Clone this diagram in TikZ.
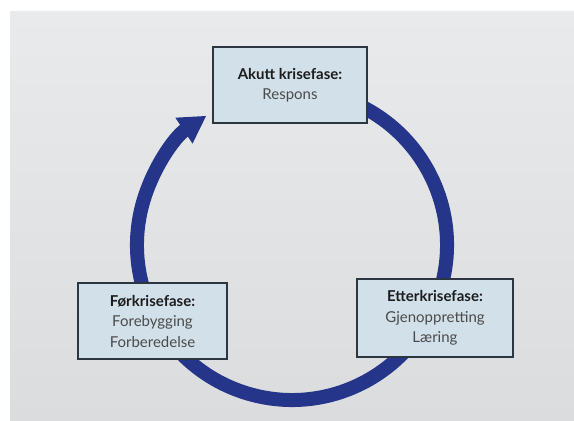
\documentclass[tikz,border=0pt]{standalone}
\usepackage{fontspec}
\setmainfont{Lato}
\usepackage{xcolor}
\usetikzlibrary{arrows.meta,backgrounds,calc}
\definecolor{ringblue}{HTML}{25358A}
\definecolor{boxfill}{HTML}{D2E0E9}
\definecolor{boxline}{HTML}{2B3640}
\definecolor{bodytext}{HTML}{4A4A4A}
\definecolor{headtext}{HTML}{1C1C1C}
\definecolor{paper}{HTML}{E9EAEB}
\newcommand{\phasehead}[1]{{\bfseries\color{headtext}#1}}

\begin{document}
\begin{tikzpicture}[x=1pt,y=1pt]
\tikzset{phase/.style={draw=boxline,line width=1.1pt,fill=boxfill,inner sep=0pt,
  minimum height=76pt,align=center,text=bodytext,
  font=\fontsize{15}{20.5}\selectfont}}
\tikzset{ring/.style={draw=ringblue,line width=14pt,
  -{Triangle[length=27pt,width=29pt]}}}
\useasboundingbox (0,0) rectangle (574,421);
\node[phase,minimum width=154pt] (akutt) at (290,336)
  {\phasehead{Akutt krisefase:}\\Respons};
\node[phase,minimum width=149pt] (forkrise) at (152.5,100)
  {\phasehead{Førkrisefase:}\\Forebygging\\Forberedelse};
\node[phase,minimum width=156pt,minimum height=78pt] (etter) at (435,103)
  {\phasehead{Etterkrisefase:}\\Gjenoppretting\\Læring};
\coordinate (c) at (292,176);
\begin{scope}[on background layer]
\fill[white] (0,0) rectangle (574,421);
\shade[top color=paper,bottom color=paper!94!black] (10,0) rectangle (574,409);
\draw[ring] ($(c)+(75:155)$) arc[start angle=75,end angle=-236.5,radius=155pt];
\end{scope}
\end{tikzpicture}
\end{document}
